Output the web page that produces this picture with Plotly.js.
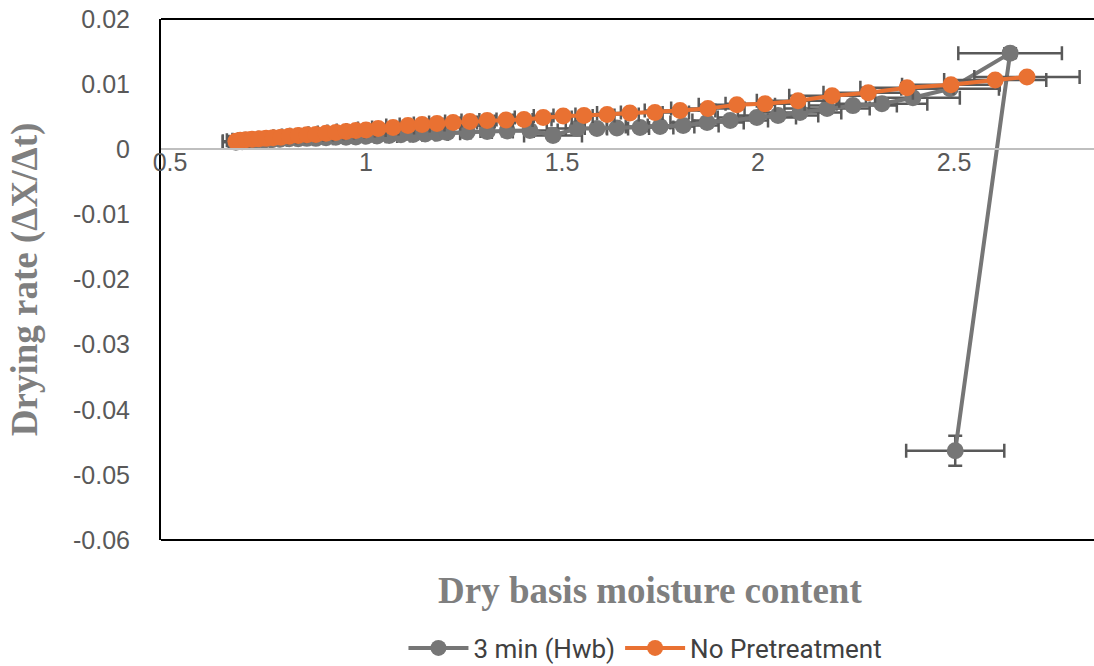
<!DOCTYPE html>
<html>
<head>
<meta charset="utf-8">
<script src="https://cdn.plot.ly/plotly-3.0.1.min.js"></script>
<style>html,body{margin:0;padding:0;background:#fff;}#chart{width:1094px;height:666px;}</style>
</head>
<body>
<div id="chart"></div>
<script>
// Series: 3 min (Hwb)
const hwbMoisture = [0.668,0.684,0.702,0.719,0.740,0.760,0.781,0.804,0.827,0.849,0.872,0.898,0.923,0.949,0.974,1.000,1.028,1.059,1.089,1.120,1.151,1.181,1.207,1.258,1.309,1.360,1.418,1.477,1.538,1.589,1.640,1.699,1.750,1.809,1.870,1.929,1.997,2.051,2.107,2.176,2.242,2.316,2.395,2.490,2.643,2.503];
const hwbRate = [0.00107,0.00114,0.00122,0.00129,0.00137,0.00145,0.00152,0.00160,0.00160,0.00167,0.00167,0.00175,0.00183,0.00183,0.00190,0.00198,0.00205,0.00213,0.00221,0.00228,0.00236,0.00244,0.00259,0.00266,0.00274,0.00282,0.00289,0.00213,0.00320,0.00320,0.00327,0.00335,0.00350,0.00365,0.00411,0.00441,0.00487,0.00518,0.00563,0.00624,0.00670,0.00700,0.00791,0.00928,0.01476,-0.0463];
// Series: No Pretreatment
const noPreMoisture = [0.668,0.679,0.694,0.709,0.727,0.745,0.763,0.783,0.804,0.827,0.849,0.872,0.898,0.923,0.949,0.974,1.000,1.031,1.069,1.107,1.143,1.181,1.222,1.265,1.309,1.357,1.403,1.452,1.503,1.556,1.615,1.673,1.737,1.801,1.872,1.946,2.018,2.102,2.189,2.281,2.380,2.492,2.605,2.686];
const noPreRate = [0.00122,0.00137,0.00145,0.00152,0.00160,0.00167,0.00175,0.00183,0.00198,0.00213,0.00221,0.00228,0.00244,0.00259,0.00274,0.00289,0.00297,0.00320,0.00335,0.00365,0.00380,0.00396,0.00411,0.00426,0.00441,0.00449,0.00457,0.00487,0.00510,0.00518,0.00533,0.00556,0.00563,0.00594,0.00624,0.00685,0.00700,0.00746,0.00822,0.00868,0.00944,0.00989,0.01065,0.01111];
const seriesNames = ['3 min (Hwb)', 'No Pretreatment'];
const errorPercent = 5;
// Tick labels
const xTickVals = [0.5, 1, 1.5, 2, 2.5];
const xTickText = ['0.5', '1', '1.5', '2', '2.5'];
const yTickVals = [0.02, 0.01, 0, -0.01, -0.02, -0.03, -0.04, -0.05, -0.06];
const yTickText = ['0.02', '0.01', '0', '-0.01', '-0.02', '-0.03', '-0.04', '-0.05', '-0.06'];

const errStyle = {type: 'percent', value: errorPercent, color: '#595959', thickness: 2.5, width: 7, visible: true};
const tickFont = {size: 25, color: '#595959', family: 'Liberation Sans, Arial, sans-serif'};
const titleFont = {family: 'Liberation Serif, Times New Roman, serif', size: 37, color: '#7F7F7F', weight: 'bold'};

const traces = [
  {x: hwbMoisture, y: hwbRate, name: seriesNames[0], type: 'scatter', mode: 'lines+markers',
   line: {color: '#767676', width: 4}, marker: {color: '#767676', size: 17},
   error_x: errStyle, error_y: errStyle},
  {x: noPreMoisture, y: noPreRate, name: seriesNames[1], type: 'scatter', mode: 'lines+markers',
   line: {color: '#E97132', width: 4}, marker: {color: '#E97132', size: 17},
   error_x: errStyle, error_y: errStyle}
];

const layout = {
  width: 1094, height: 666,
  margin: {l: 161, r: 0, t: 19, b: 126},
  paper_bgcolor: '#fff', plot_bgcolor: '#fff',
  showlegend: true,
  font: {family: 'Liberation Sans, Arial, sans-serif', color: '#595959'},
  xaxis: {
    range: [0.477, 2.857], anchor: 'free', position: 0.75,
    tickvals: xTickVals, ticktext: xTickText,
    showgrid: false, zeroline: false, showline: true, linecolor: '#BFBFBF', linewidth: 2,
    ticks: '', ticklabelstandoff: -9, tickfont: tickFont
  },
  yaxis: {
    range: [-0.06, 0.02], tickvals: yTickVals, ticktext: yTickText,
    showgrid: false, zeroline: false, showline: true, linecolor: '#000', linewidth: 2,
    ticks: 'outside', ticklen: 24, tickcolor: 'rgba(0,0,0,0)',
    tickfont: tickFont,
    title: {text: 'Drying rate (ΔX/Δt)', standoff: 24, font: titleFont}
  },
  shapes: [
    {type: 'line', xref: 'paper', yref: 'paper', x0: 0, x1: 1, y0: 1, y1: 1, line: {color: '#000', width: 2}},
    {type: 'line', xref: 'paper', yref: 'paper', x0: 0, x1: 1, y0: 0, y1: 0, line: {color: '#000', width: 2}}
  ],
  annotations: [
    {text: 'Dry basis moisture content', xref: 'paper', yref: 'paper', x: 0.524, y: -0.096,
     xanchor: 'center', yanchor: 'middle', showarrow: false, font: titleFont}
  ],
  legend: {
    orientation: 'h', xref: 'container', yref: 'container', x: 0.59, y: 0.027,
    xanchor: 'center', yanchor: 'middle',
    font: {family: 'Roboto, sans-serif', size: 26, color: '#404040'},
    itemwidth: 60, bgcolor: 'rgba(0,0,0,0)'
  }
};

Plotly.newPlot('chart', traces, layout, {displayModeBar: false, staticPlot: true});
</script>
</body>
</html>
